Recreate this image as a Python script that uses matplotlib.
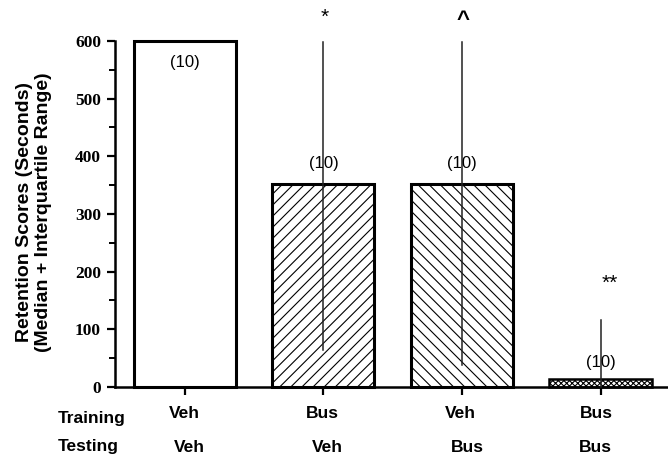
import matplotlib
matplotlib.use("Agg")
import matplotlib.pyplot as plt
from matplotlib.ticker import MultipleLocator
import matplotlib.transforms as mtransforms

# data
groups = [0, 1, 2, 3]
medians = [600, 352, 352, 14]
upper_q = [600, 598, 598, 116]
lower_q = [600, 64, 38, 0]
n_labels = ["(10)", "(10)", "(10)", "(10)"]
n_label_y = [563, 388, 388, 42]
sig_marks = ["", "*", "^", "**"]
sig_y = [0, 641, 636, 180]
training = ["Veh", "Bus", "Veh", "Bus"]
testing = ["Veh", "Veh", "Bus", "Bus"]

HATCHES = ["", "///", "\\\\\\", "xxxxxx"]
EDGE_W = [2.2, 2.2, 2.2, 1.8]

plt.rcParams["hatch.linewidth"] = 0.8
SANS = "Liberation Sans"
SERIF = "Liberation Serif"

fig = plt.figure(figsize=(6.68, 4.59), dpi=100)
ax = fig.add_axes([0.172, 0.157, 0.828, 0.754])

for i, g in enumerate(groups):
    ax.bar(g, medians[i], width=0.737, facecolor="white", edgecolor="black",
           linewidth=EDGE_W[i], hatch=HATCHES[i], clip_on=False, zorder=2)
    if upper_q[i] != lower_q[i]:
        ax.plot([g, g], [lower_q[i], upper_q[i]], color="#222222", lw=1.1,
                zorder=3, clip_on=False)
    ax.text(g, n_label_y[i], n_labels[i], ha="center", va="center",
            fontsize=12, family=SANS, zorder=4)
    if sig_marks[i]:
        dx = 0.07 if sig_marks[i] == "**" else 0.01
        ax.text(g + dx, sig_y[i], sig_marks[i], ha="center", va="center",
                fontsize=16 if sig_marks[i] == "^" else 15,
                fontweight="bold" if sig_marks[i] == "^" else "normal",
                family=SANS, clip_on=False)

ax.set_xlim(-0.505, 3.487)
ax.set_ylim(0, 600)
ax.spines["top"].set_visible(False)
ax.spines["right"].set_visible(False)
ax.spines["left"].set_linewidth(1.8)
ax.spines["bottom"].set_linewidth(1.8)

ax.yaxis.set_major_locator(MultipleLocator(100))
ax.yaxis.set_minor_locator(MultipleLocator(50))
ax.tick_params(axis="y", which="major", direction="out", length=6, width=1.6,
               labelsize=12.5, pad=4)
ax.tick_params(axis="y", which="minor", direction="out", length=4, width=1.4)
for lab in ax.get_yticklabels():
    lab.set_family(SERIF)
    lab.set_fontweight("bold")

ax.set_xticks(groups)
ax.set_xticklabels([])
ax.tick_params(axis="x", which="major", direction="out", length=6, width=1.6)

# category rows below the axis
trans = mtransforms.blended_transform_factory(ax.transData, fig.transFigure)
row1_off = [0.0, -0.01, -0.01, -0.03]
row2_off = [0.03, 0.03, 0.04, -0.04]
for i, g in enumerate(groups):
    fig.text(g + row1_off[i], 1 - 414 / 459, training[i], transform=trans,
             ha="center", va="center", fontsize=12.5, fontweight="bold", family=SANS)
    fig.text(g + row2_off[i], 1 - 447 / 459, testing[i], transform=trans,
             ha="center", va="center", fontsize=12.5, fontweight="bold", family=SANS)
fig.text(58 / 668, 1 - 418 / 459, "Training", ha="left", va="center",
         fontsize=12.5, fontweight="bold", family=SANS)
fig.text(58 / 668, 1 - 447 / 459, "Testing", ha="left", va="center",
         fontsize=12.5, fontweight="bold", family=SANS)

fig.text(34 / 668, 1 - 212 / 459,
         "Retention Scores (Seconds)\n(Median + Interquartile Range)",
         rotation=90, ha="center", va="center", fontsize=14,
         fontweight="bold", family=SANS, linespacing=1.2)

fig.savefig("out.png", dpi=100)
